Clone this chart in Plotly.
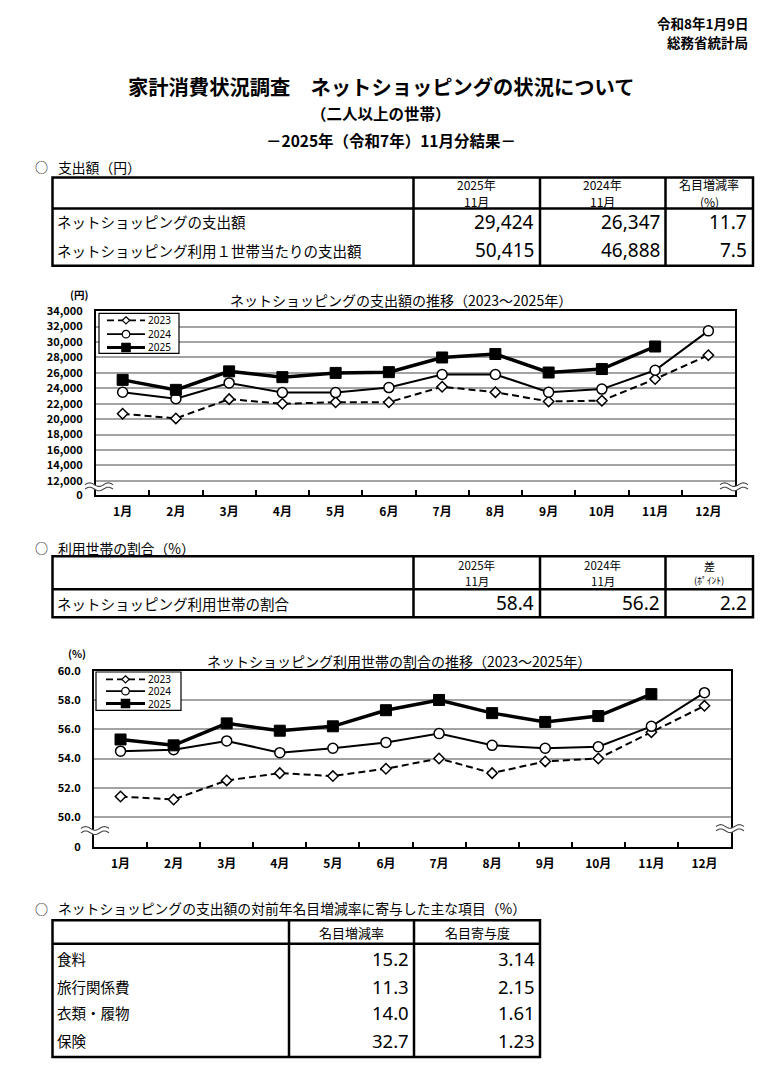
import math
import plotly.graph_objects as go

# ---------------- data ----------------
months = ["1月", "2月", "3月", "4月", "5月", "6月", "7月", "8月", "9月", "10月", "11月", "12月"]
years = ["2023", "2024", "2025"]

spend_2023 = [20700, 20100, 22600, 22000, 22200, 22200, 24200, 23500, 22300, 22400, 25200, 28300]
spend_2024 = [23500, 22650, 24700, 23450, 23450, 24100, 25800, 25800, 23500, 23900, 26347, 31450]
spend_2025 = [25100, 23800, 26200, 25450, 26000, 26100, 28000, 28450, 26050, 26500, 29424]

share_2023 = [51.4, 51.2, 52.5, 53.0, 52.8, 53.3, 54.0, 53.0, 53.8, 54.0, 55.8, 57.6]
share_2024 = [54.5, 54.6, 55.2, 54.4, 54.7, 55.1, 55.7, 54.9, 54.7, 54.8, 56.2, 58.5]
share_2025 = [55.3, 54.9, 56.4, 55.9, 56.2, 57.3, 58.0, 57.1, 56.5, 56.9, 58.4]

spend_ticks = [12000, 14000, 16000, 18000, 20000, 22000, 24000, 26000, 28000, 30000, 32000, 34000]
spend_tick_labels = ["12,000", "14,000", "16,000", "18,000", "20,000", "22,000",
                     "24,000", "26,000", "28,000", "30,000", "32,000", "34,000"]
share_ticks = [50.0, 52.0, 54.0, 56.0, 58.0, 60.0]
share_tick_labels = ["50.0", "52.0", "54.0", "56.0", "58.0", "60.0"]

table1_labels = ["ネットショッピングの支出額", "ネットショッピング利用１世帯当たりの支出額"]
table1_2025 = [29424, 50415]
table1_2024 = [26347, 46888]
table1_rate = [11.7, 7.5]
table1_headers = [["2025年", "11月"], ["2024年", "11月"], ["名目増減率", "(%)"]]

table2_labels = ["ネットショッピング利用世帯の割合"]
table2_2025 = [58.4]
table2_2024 = [56.2]
table2_diff = [2.2]
table2_headers = [["2025年", "11月"], ["2024年", "11月"], ["差", "(ﾎﾟｲﾝﾄ)"]]

table3_items = ["食料", "旅行関係費", "衣類・履物", "保険"]
table3_rate = [15.2, 11.3, 14.0, 32.7]
table3_contrib = [3.14, 2.15, 1.61, 1.23]
table3_headers = ["名目増減率", "名目寄与度"]

# ---------------- page geometry ----------------
OFF = 8
W, H = 772 - 2 * OFF, 1079 - 2 * OFF
JP = "Noto Sans CJK JP"
NUM = "Noto Sans"


def fx(x):
    return (x - OFF) / W


def fy(y):
    return 1 - (y - OFF) / H


shapes = []
annotations = []


def text(x, y, s, size, anchor="center", family=JP, bold=False):
    annotations.append(dict(
        x=fx(x), y=fy(y), xref="paper", yref="paper", showarrow=False,
        text=f"<b>{s}</b>" if bold else s, xanchor=anchor, yanchor="middle",
        font=dict(family=family, size=size, color="black"), borderpad=0))


def line(x0, y0, x1, y1, w=2.5, color="black", dash=None, layer="above"):
    ln = dict(color=color, width=w)
    if dash:
        ln["dash"] = dash
    shapes.append(dict(type="line", xref="paper", yref="paper",
                       x0=fx(x0), y0=fy(y0), x1=fx(x1), y1=fy(y1), line=ln, layer=layer))


def table_frame(left, right, top, hdr, bottom, cols, w=2.5):
    shapes.append(dict(type="rect", xref="paper", yref="paper",
                       x0=fx(left), x1=fx(right), y0=fy(bottom), y1=fy(top),
                       line=dict(color="black", width=w)))
    line(left, hdr, right, hdr, w)
    for c in cols:
        line(c, top, c, bottom, w)


def path_of(points, close=False):
    s = "M" + " L".join(f"{fx(x):.5f},{fy(y):.5f}" for x, y in points)
    return s + (" Z" if close else "")


def break_mark(xc, yc, width=28, gap=2.2, amp=1.8, periods=1.5, n=30):
    def pts(dy):
        out = []
        for i in range(n + 1):
            t = i / n
            out.append((xc - width / 2 + t * width,
                        yc + dy - amp * math.sin(2 * math.pi * periods * t)))
        return out
    top = pts(-gap)
    bot = pts(gap)
    shapes.append(dict(type="path", xref="paper", yref="paper",
                       path=path_of(top + bot[::-1], close=True),
                       fillcolor="white", line=dict(width=0), layer="above"))
    for p in (top, bot):
        shapes.append(dict(type="path", xref="paper", yref="paper", path=path_of(p),
                           line=dict(color="#444", width=1.1), layer="above"))


# ---------------- series styles ----------------
styles = {
    "2023": dict(line=dict(color="black", width=2, dash="7px,4px"),
                 marker=dict(symbol="diamond", size=8, color="white",
                             line=dict(color="black", width=1.5))),
    "2024": dict(line=dict(color="black", width=2),
                 marker=dict(symbol="circle", size=10, color="white",
                             line=dict(color="black", width=1.5))),
    "2025": dict(line=dict(color="black", width=3.5),
                 marker=dict(symbol="square", size=11, color="black",
                             line=dict(color="black", width=1))),
}


def legend_key(box, rows_y, lx0, lx1, tx):
    x0, y0, x1, y1 = box
    shapes.append(dict(type="rect", xref="paper", yref="paper",
                       x0=fx(x0), x1=fx(x1), y0=fy(y1), y1=fy(y0),
                       fillcolor="white", line=dict(color="black", width=1.2), layer="above"))
    for yr, ry in zip(years, rows_y):
        st = styles[yr]
        line(lx0, ry, lx1, ry, w=st["line"]["width"] * 0.9, dash=st["line"].get("dash"))
        cx = (lx0 + lx1) / 2
        mk = st["marker"]
        r = mk["size"] * 0.38
        fill = mk["color"]
        mline = dict(color="black", width=1.2)
        if mk["symbol"] == "diamond":
            pts = [(cx, ry - r * 1.2), (cx + r * 1.2, ry), (cx, ry + r * 1.2), (cx - r * 1.2, ry)]
            shapes.append(dict(type="path", xref="paper", yref="paper", path=path_of(pts, True),
                               fillcolor=fill, line=mline, layer="above"))
        elif mk["symbol"] == "circle":
            shapes.append(dict(type="circle", xref="paper", yref="paper",
                               x0=fx(cx - r), x1=fx(cx + r), y0=fy(ry + r), y1=fy(ry - r),
                               fillcolor=fill, line=mline, layer="above"))
        else:
            shapes.append(dict(type="rect", xref="paper", yref="paper",
                               x0=fx(cx - r), x1=fx(cx + r), y0=fy(ry + r), y1=fy(ry - r),
                               fillcolor=fill, line=mline, layer="above"))
        text(tx, ry, yr, 10, anchor="left", family=NUM)


# ---------------- header ----------------
text(749, 14, "令和8年1月9日", 13.5, anchor="right", bold=True)
text(749, 33, "総務省統計局", 13.5, anchor="right", bold=True)
text(381, 78, "家計消費状況調査　ネットショッピングの状況について", 20.3, bold=True)
text(381, 105, "（二人以上の世帯）", 15.5, bold=True)
text(391, 133, "－2025年（令和7年）11月分結果－", 15.5, bold=True)

# ---------------- table 1 ----------------
text(41, 160, "○", 13)
text(57, 160, "支出額（円）", 13.8, anchor="left")
t1_cols = [413.5, 540, 665.5]
t1_right = 753
table_frame(52.5, t1_right, 171, 202.5, 260.5, t1_cols)
col_edges = t1_cols + [t1_right]
for j, hd in enumerate(table1_headers):
    cx = (col_edges[j] + col_edges[j + 1]) / 2
    text(cx, 178.5, hd[0], 12)
    text(cx, 195.5, hd[1], 12)
row_y1 = [216, 245]
for i, lab in enumerate(table1_labels):
    text(56, row_y1[i], lab, 14.5, anchor="left")
    text(col_edges[1] - 5, row_y1[i], f"{table1_2025[i]:,}", 19, anchor="right", family=NUM)
    text(col_edges[2] - 5, row_y1[i], f"{table1_2024[i]:,}", 19, anchor="right", family=NUM)
    text(col_edges[3] - 5, row_y1[i], f"{table1_rate[i]:.1f}", 19, anchor="right", family=NUM)

# ---------------- table 2 ----------------
text(41, 547, "○", 13)
text(57, 547, "利用世帯の割合（%）", 13.8, anchor="left")
table_frame(52.5, t1_right, 555.5, 589, 617.5, t1_cols)
for j, hd in enumerate(table2_headers):
    cx = (col_edges[j] + col_edges[j + 1]) / 2
    if j == 2:
        text(cx, 565, hd[0], 11)
        text(cx, 579.5, hd[1], 9.5)
    else:
        text(cx, 564.5, hd[0], 11.5)
        text(cx, 580.5, hd[1], 11.5)
for i, lab in enumerate(table2_labels):
    y = 603
    text(56, y, lab, 14.5, anchor="left")
    text(col_edges[1] - 5, y, f"{table2_2025[i]:.1f}", 19, anchor="right", family=NUM)
    text(col_edges[2] - 5, y, f"{table2_2024[i]:.1f}", 19, anchor="right", family=NUM)
    text(col_edges[3] - 5, y, f"{table2_diff[i]:.1f}", 19, anchor="right", family=NUM)

# ---------------- table 3 ----------------
text(41, 913, "○", 13)
text(57, 913, "ネットショッピングの支出額の対前年名目増減率に寄与した主な項目（%）", 13.8, anchor="left")
t3_cols = [289, 414]
t3_right = 540
table_frame(52.5, t3_right, 925, 949, 1064, t3_cols)
t3_edges = t3_cols + [t3_right]
for j, hd in enumerate(table3_headers):
    text((t3_edges[j] + t3_edges[j + 1]) / 2, 937, hd, 13)
row_y3 = [964, 992, 1019, 1047]
for i, item in enumerate(table3_items):
    text(56, row_y3[i], item, 14.5, anchor="left")
    text(t3_edges[1] - 4, row_y3[i], f"{table3_rate[i]:.1f}", 18.5, anchor="right", family=NUM)
    text(t3_edges[2] - 4, row_y3[i], f"{table3_contrib[i]:.2f}", 18.5, anchor="right", family=NUM)

# ---------------- charts ----------------
fig = go.Figure()

for yr, vals in zip(years, [spend_2023, spend_2024, spend_2025]):
    fig.add_trace(go.Scatter(x=months[:len(vals)], y=vals, name=yr, mode="lines+markers",
                             xaxis="x", yaxis="y", showlegend=False, cliponaxis=False,
                             **styles[yr]))
for yr, vals in zip(years, [share_2023, share_2024, share_2025]):
    fig.add_trace(go.Scatter(x=months[:len(vals)], y=vals, name=yr, mode="lines+markers",
                             xaxis="x2", yaxis="y2", showlegend=False, cliponaxis=False,
                             **styles[yr]))

AX1_BOT = 10210   # axis-break position for "0"
AX2_BOT = 47.95

tickfont = dict(family=JP, size=11, color="black", weight="bold")


def xaxis_style(domain, anchor):
    return dict(domain=domain, anchor=anchor, type="category", categoryorder="array",
                categoryarray=months, range=[-0.5, 11.5], tickson="boundaries",
                ticks="inside", ticklen=5, tickwidth=1.5, tickcolor="black",
                showline=True, linecolor="black", linewidth=2, mirror=True,
                showgrid=False, zeroline=False, tickfont=dict(tickfont, size=12),
                ticklabelstandoff=5, fixedrange=True)


def yaxis_style(domain, anchor, rng, tv, tt):
    return dict(domain=domain, anchor=anchor, range=rng, tickmode="array",
                tickvals=tv, ticktext=tt, showgrid=True, gridcolor="#a3a3a3",
                gridwidth=1.5, showline=True, linecolor="black", linewidth=2,
                mirror=True, ticks="", zeroline=False, tickfont=tickfont,
                ticklabelstandoff=9, fixedrange=True)


fig.update_layout(
    width=W, height=H, margin=dict(l=0, r=0, t=0, b=0),
    paper_bgcolor="white", plot_bgcolor="white", showlegend=False,
    xaxis=xaxis_style([fx(96), fx(735)], "y"),
    yaxis=yaxis_style([fy(493), fy(306.7)], "x", [AX1_BOT, 34000],
                      [AX1_BOT] + spend_ticks, ["0"] + spend_tick_labels),
    xaxis2=xaxis_style([fx(94), fx(731)], "y2"),
    yaxis2=yaxis_style([fy(850.7), fy(671.7)], "x2", [AX2_BOT, 60.0],
                       [AX2_BOT] + share_ticks, ["0"] + share_tick_labels),
)

# chart titles & units
text(401, 295, "ネットショッピングの支出額の推移（2023～2025年）", 14)
text(79, 290, "(円)", 10.5, bold=True)
text(399, 662, "ネットショッピング利用世帯の割合の推移（2023～2025年）", 14)
text(77, 654, "(%)", 10.5, bold=True)

# legend keys (same styles as the series)
legend_key((99, 309, 179, 349.5), [316, 330, 343.5], 107, 145, 147)
legend_key((96, 673, 181, 712), [680.5, 692.5, 705], 106, 145, 147)

# axis break marks
break_mark(99, 485)
break_mark(734, 485)
break_mark(95, 834)
break_mark(730, 832)

fig.update_layout(shapes=shapes, annotations=annotations)
fig.write_html("out.html")
